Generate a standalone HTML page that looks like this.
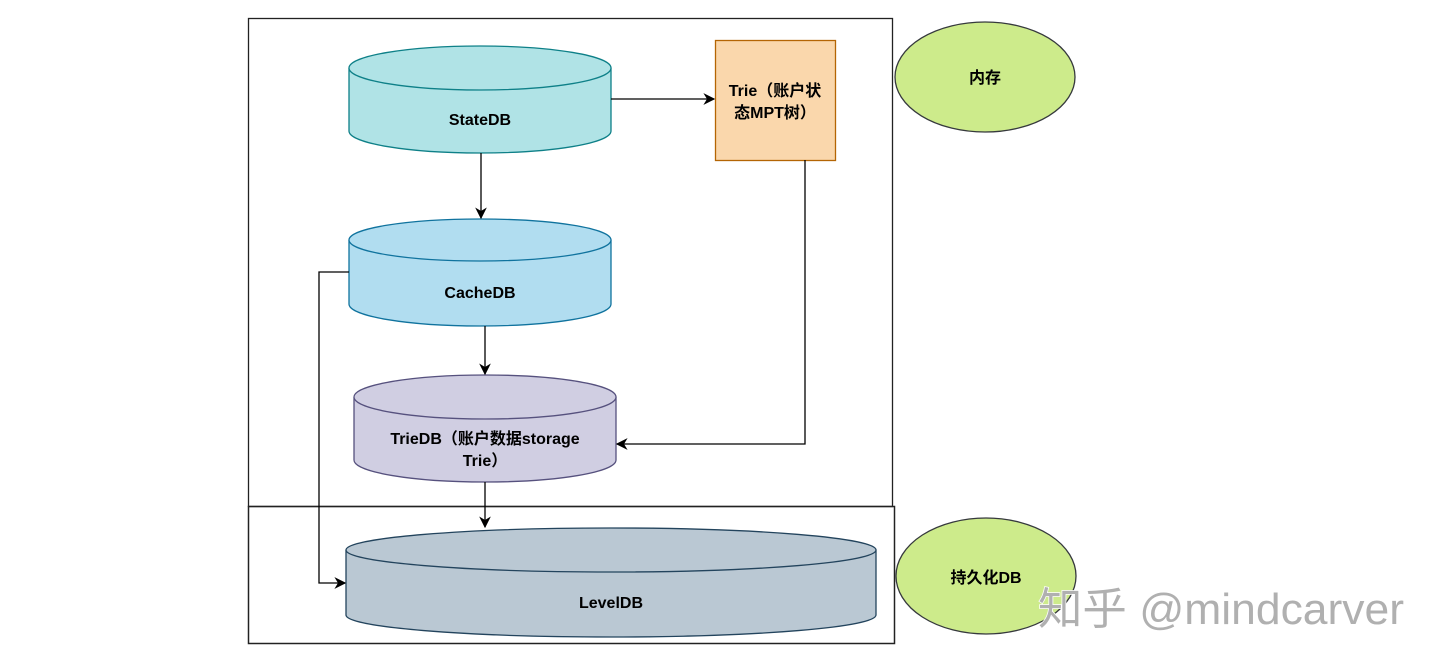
<!DOCTYPE html>
<html><head><meta charset="utf-8"><style>
html,body{margin:0;padding:0;background:#fff;}
svg{display:block;}
text{font-family:"Liberation Sans","Noto Sans CJK SC",sans-serif;font-weight:bold;font-size:16px;fill:#000;}
</style></head><body>
<svg width="1440" height="667" viewBox="0 0 1440 667" xmlns="http://www.w3.org/2000/svg">
<defs><marker id="a" viewBox="0 0 10 10" refX="9" refY="5" markerWidth="9" markerHeight="9" orient="auto"><path d="M0,0 L10,5 L0,10 L3,5 z" fill="#000"/></marker></defs>
<rect x="248.5" y="18.5" width="644" height="488" fill="none" stroke="#222" stroke-width="1.3"/>
<rect x="248.5" y="506.5" width="646" height="137" fill="none" stroke="#222" stroke-width="1.5"/>
<path d="M349,68 L349,131 A131,22 0 0 0 611,131 L611,68" fill="#b0e3e6" stroke="#0e8088" stroke-width="1.3"/>
<ellipse cx="480" cy="68" rx="131" ry="22" fill="#b0e3e6" stroke="#0e8088" stroke-width="1.3"/>
<text x="480" y="125" text-anchor="middle">StateDB</text>
<path d="M349,240 L349,304 A131,22 0 0 0 611,304 L611,240" fill="#b1ddf0" stroke="#10739e" stroke-width="1.3"/>
<ellipse cx="480" cy="240" rx="131" ry="21" fill="#b1ddf0" stroke="#10739e" stroke-width="1.3"/>
<text x="480" y="298" text-anchor="middle">CacheDB</text>
<path d="M354,397 L354,460 A131,22 0 0 0 616,460 L616,397" fill="#d0cee2" stroke="#56517e" stroke-width="1.3"/>
<ellipse cx="485" cy="397" rx="131" ry="22" fill="#d0cee2" stroke="#56517e" stroke-width="1.3"/>
<text x="485" y="444" text-anchor="middle">TrieDB（账户数据storage</text>
<text x="485" y="466" text-anchor="middle">Trie）</text>
<path d="M346,550 L346,615 A265,22 0 0 0 876,615 L876,550" fill="#bac8d3" stroke="#23445d" stroke-width="1.3"/>
<ellipse cx="611" cy="550" rx="265" ry="22" fill="#bac8d3" stroke="#23445d" stroke-width="1.3"/>
<text x="611" y="608" text-anchor="middle">LevelDB</text>
<rect x="715.5" y="40.5" width="120" height="120" fill="#fad7ac" stroke="#b46504" stroke-width="1.3"/>
<text x="775" y="96" text-anchor="middle">Trie（账户状</text>
<text x="775" y="118" text-anchor="middle">态MPT树）</text>
<ellipse cx="985" cy="77" rx="90" ry="55" fill="#cdeb8b" stroke="#36393d" stroke-width="1.3"/>
<text x="985" y="83" text-anchor="middle">内存</text>
<ellipse cx="986" cy="576" rx="90" ry="58" fill="#cdeb8b" stroke="#36393d" stroke-width="1.3"/>
<text x="986" y="583" text-anchor="middle">持久化DB</text>
<g fill="none" stroke="#000" stroke-width="1.3" marker-end="url(#a)">
<path d="M611,99 L714,99"/>
<path d="M481,153 L481,218"/>
<path d="M485,326 L485,374"/>
<path d="M805,160 L805,444 L617,444"/>
<path d="M485,482 L485,527"/>
<path d="M349,272 L319,272 L319,583 L345,583"/>
</g>
<text x="1038" y="624" textLength="366" lengthAdjust="spacingAndGlyphs" style="font-size:44px;font-weight:normal;fill:#b0b0b0;stroke:#fff;stroke-width:1.5;paint-order:stroke">知乎 @mindcarver</text>
</svg>
</body></html>
